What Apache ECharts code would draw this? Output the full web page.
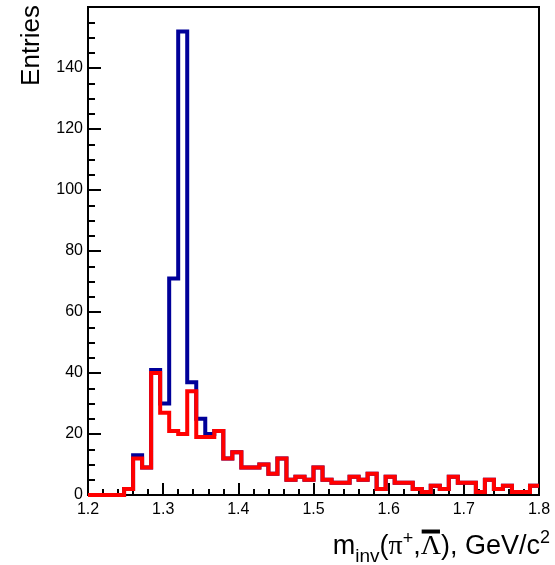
<!DOCTYPE html>
<html>
<head>
<meta charset="utf-8">
<script src="https://cdn.jsdelivr.net/npm/echarts@6/dist/echarts.min.js"></script>
<style>
html,body{margin:0;padding:0;background:#fff;}
#chart{width:555px;height:565px;}
</style>
</head>
<body>
<div id="chart"></div>
<script>
// Histogram definition (50 bins from 1.2 to 1.8)
const xMin = 1.2;
const xMax = 1.8;
const binWidth = 0.012;
const yMax = 160;

// Bin contents
const blueCounts = [0,0,0,0,2,13,9,41,30,71,
                    152,37,25,20,21,12,14,9,9,10,
                    7,12,5,6,5,9,5,4,4,6,
                    5,7,2,6,4,4,2,1,3,2,
                    6,4,4,1,5,2,3,1,1,3];
const redCounts  = [0,0,0,0,2,12,9,40,27,21,
                    20,34,19,19,21,12,14,9,9,10,
                    7,12,5,6,5,9,5,4,4,6,
                    5,7,2,6,4,4,2,1,3,2,
                    6,4,4,1,5,2,3,1,1,3];

const xTickLabels = ['1.2','1.3','1.4','1.5','1.6','1.7','1.8'];
const yTickLabels = ['0','20','40','60','80','100','120','140'];
const yTitle = 'Entries';

function stepData(counts) {
  const pts = counts.map((c, i) => [+(xMin + i * binWidth).toFixed(4), c]);
  pts.push([xMax, counts[counts.length - 1]]);
  return pts;
}

const sans = 'Liberation Sans, Arial, Helvetica, sans-serif';
const serif = 'Liberation Serif, Times New Roman, serif';

// x-axis title laid out piece by piece (sub/superscripts, overlined Lambda)
const titlePieces = [
  {t: 'm', size: 27, fam: sans, dy: 0},
  {t: 'inv', size: 19, fam: sans, dy: 7},
  {t: '(', size: 27, fam: sans, dy: 0},
  {t: 'π', size: 28, fam: serif, dy: 0},
  {t: '+', size: 18, fam: sans, dy: -11},
  {t: ',', size: 27, fam: sans, dy: 0},
  {t: 'Λ', size: 28, fam: serif, dy: 0, bar: true},
  {t: '), GeV/c', size: 27, fam: sans, dy: 0},
  {t: '2', size: 18, fam: sans, dy: -12}
];
const measureCtx = document.createElement('canvas').getContext('2d');
function textWidth(p) {
  measureCtx.font = p.size + 'px ' + p.fam;
  return measureCtx.measureText(p.t).width;
}
const titleRight = 550;
const titleBaseline = 555;
const totalW = titlePieces.reduce((s, p) => s + textWidth(p), 0);
let cx = titleRight - totalW;
const titleGraphics = [];
titlePieces.forEach(p => {
  const w = textWidth(p);
  titleGraphics.push({
    type: 'text', x: cx, y: titleBaseline + p.dy + 0.2 * p.size,
    style: {text: p.t, fontFamily: p.fam, fontSize: p.size, fill: '#000', align: 'left', verticalAlign: 'bottom'}
  });
  if (p.bar) {
    titleGraphics.push({
      type: 'rect', shape: {x: cx + 1, y: titleBaseline - 0.66 * p.size - 7, width: w - 2, height: 4},
      style: {fill: '#000'}
    });
  }
  cx += w;
});

const chart = echarts.init(document.getElementById('chart'), null, {renderer: 'canvas'});

chart.setOption({
  animation: false,
  backgroundColor: '#fff',
  grid: {left: 88, right: 16, top: 7, bottom: 70, show: true, borderColor: '#000', borderWidth: 2, backgroundColor: 'transparent'},
  xAxis: {
    type: 'value', min: xMin, max: xMax, interval: 0.1,
    axisLine: {show: true, lineStyle: {color: '#000', width: 2}},
    axisTick: {show: true, inside: true, length: 12, lineStyle: {color: '#000', width: 2}},
    minorTick: {show: true, splitNumber: 5, length: 6, lineStyle: {color: '#000', width: 2}},
    splitLine: {show: false},
    axisLabel: {
      color: '#000', fontFamily: sans, fontSize: 16, margin: 7,
      formatter: function (v) {
        const idx = Math.round((v - xMin) / 0.1);
        return xTickLabels[idx] !== undefined ? xTickLabels[idx] : '';
      }
    }
  },
  yAxis: {
    type: 'value', min: 0, max: yMax, interval: 20,
    axisLine: {show: true, lineStyle: {color: '#000', width: 2}},
    axisTick: {show: true, inside: true, length: 13, lineStyle: {color: '#000', width: 2}},
    minorTick: {show: true, splitNumber: 4, length: 7, lineStyle: {color: '#000', width: 2}},
    splitLine: {show: false},
    axisLabel: {
      color: '#000', fontFamily: sans, fontSize: 16, margin: 5, showMaxLabel: false,
      formatter: function (v) {
        const idx = Math.round(v / 20);
        return (v % 20 === 0 && yTickLabels[idx] !== undefined) ? yTickLabels[idx] : '';
      }
    }
  },
  series: [
    {
      type: 'line', step: 'end', data: stepData(blueCounts), showSymbol: false,
      lineStyle: {color: '#000099', width: 4, join: 'miter', cap: 'butt'},
      itemStyle: {color: '#000099'}, z: 2, clip: true
    },
    {
      type: 'line', step: 'end', data: stepData(redCounts), showSymbol: false,
      lineStyle: {color: '#ff0000', width: 4, join: 'miter', cap: 'butt'},
      itemStyle: {color: '#ff0000'}, z: 3, clip: true
    }
  ],
  graphic: [
    {
      type: 'text', x: 19, y: 5, rotation: Math.PI / 2,
      style: {text: yTitle, fontFamily: sans, fontSize: 26, fill: '#000', align: 'right', verticalAlign: 'top'}
    }
  ].concat(titleGraphics)
});
</script>
</body>
</html>
